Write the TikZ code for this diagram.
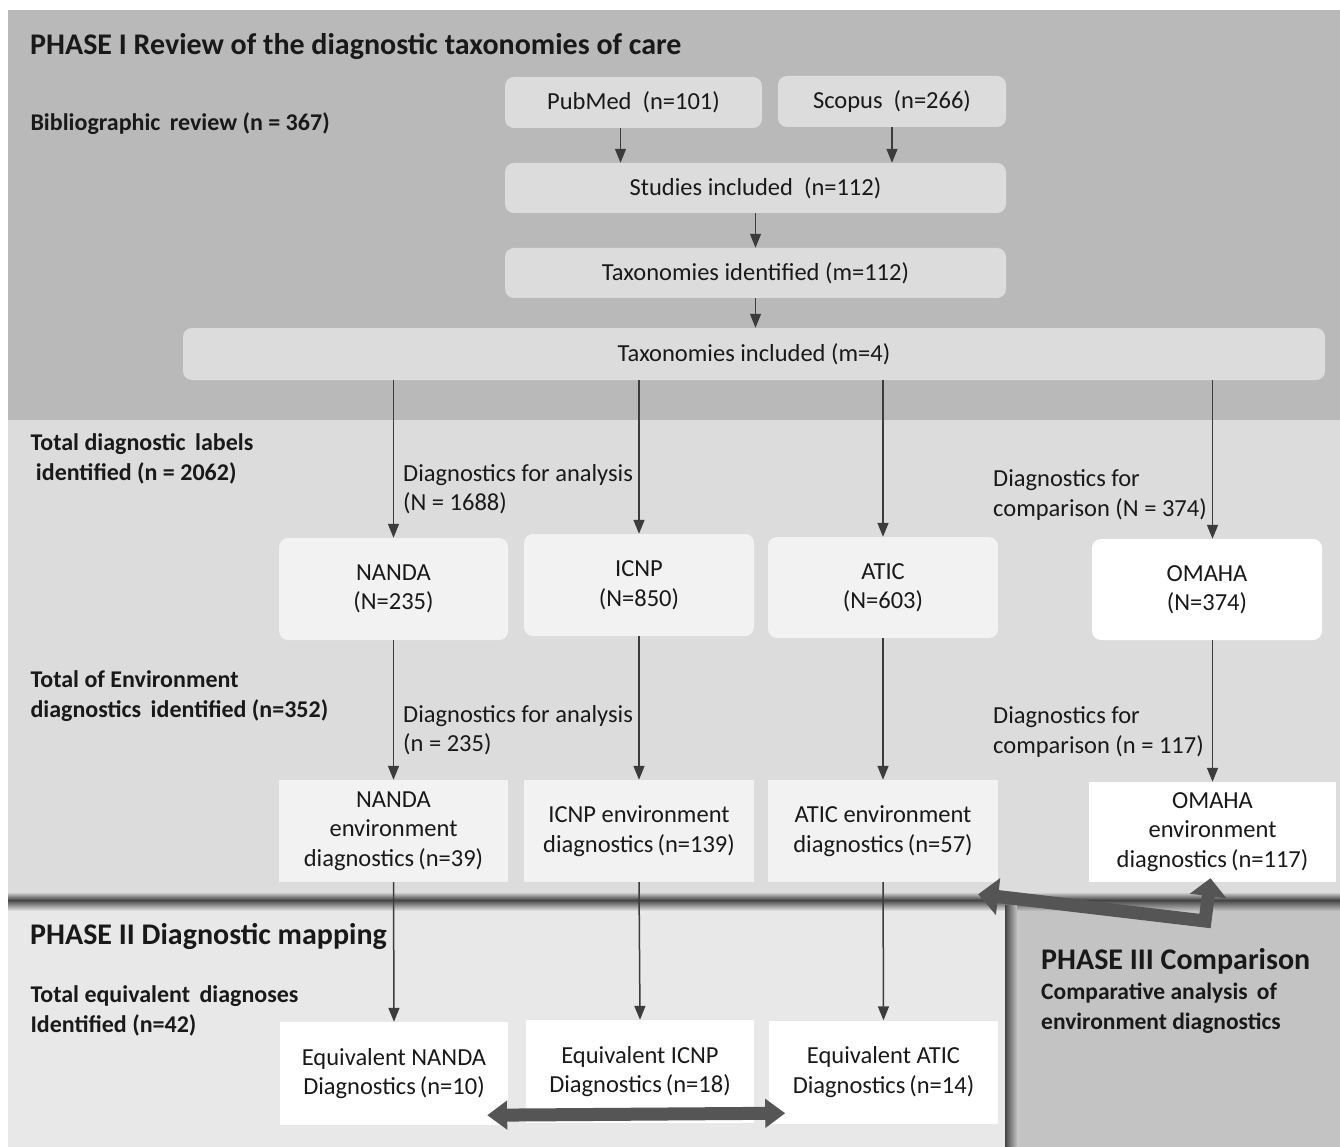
\documentclass[tikz,border=0pt]{standalone}
\usepackage{fontspec}
\setmainfont{Carlito}
\usetikzlibrary{arrows.meta,calc}
\definecolor{phI}{HTML}{B9B9B9}
\definecolor{mid}{HTML}{DCDCDC}
\definecolor{phII}{HTML}{E8E8E8}
\definecolor{phIII}{HTML}{C3C3C3}
\definecolor{boxA}{HTML}{DCDCDC}
\definecolor{boxB}{HTML}{F2F2F2}
\definecolor{arrgray}{HTML}{3C3C3C}
\definecolor{bigarr}{HTML}{555555}
\definecolor{shadowc}{HTML}{444444}
\tikzset{
  every node/.style={font=\fontsize{24.5}{29.5}\selectfont, text=black!90},
  rbox/.style={rounded corners=9pt, inner sep=0pt, align=center},
  sbox/.style={inner sep=0pt, align=center},
  arr/.style={draw=arrgray, line width=1.5pt, -{Triangle[length=14pt,width=11pt]}},
  leftlab/.style={anchor=west, align=left, font=\fontsize{24}{29.5}\selectfont\bfseries},
  edgelab/.style={anchor=west, align=left, inner sep=0pt},
  phasetitle/.style={anchor=west, inner sep=0pt, font=\fontsize{30}{34}\selectfont\bfseries},
  thick arrow/.style={draw=bigarr, line width=13pt, line join=miter},
}
\begin{document}
\begin{tikzpicture}[x=1pt,y=-1pt]
\useasboundingbox (0,0) rectangle (1340,1147);
\fill[white] (0,0) rectangle (1340,1147);
% panels
\fill[phI] (8,10) rectangle (1340,420);
\fill[mid] (8,420) rectangle (1340,900);
\fill[phII] (8,900) rectangle (1005,1147);
\fill[phIII] (1005,900) rectangle (1340,1147);
% shadows
\shade[top color=mid, bottom color=shadowc] (8,892) rectangle (1340,900);
\shade[top color=shadowc, bottom color=phII] (8,900) rectangle (1005,911);
\shade[top color=shadowc, bottom color=phIII] (1005,900) rectangle (1340,911);
\shade[left color=shadowc, right color=phIII] (1005,905) rectangle (1017,1147);

% titles
\node[phasetitle] (t1) at (30,46) {PHASE I Review of the diagnostic taxonomies of care};
\node[phasetitle] (t2) at (30,936) {PHASE II Diagnostic mapping};
\node[phasetitle] (t3) at (1041,961) {PHASE III Comparison};
\node[anchor=north west, align=left, inner sep=0pt, font=\fontsize{23.5}{29.5}\selectfont\bfseries] (t3b) at (1041,983) {Comparative analysis\, of\\environment diagnostics};

% left labels
\node[leftlab] (l1) at (27,124) {Bibliographic\, review (n = 367)};
\node[leftlab] (l2) at (27,459) {Total diagnostic\, labels\\\ identified (n = 2062)};
\node[leftlab] (l3) at (27,696) {Total of Environment\\diagnostics\, identified (n=352)};
\node[leftlab] (l4) at (27,1011) {Total equivalent\, diagnoses\\Identified (n=42)};

% phase I boxes
\node[rbox, fill=boxA, minimum width=257pt, minimum height=51pt] (pub) at (633.5,102.5) {PubMed\ \ (n=101)};
\node[rbox, fill=boxA, minimum width=228pt, minimum height=51pt] (sco) at (892,101.5) {Scopus\ \ (n=266)};
\node[rbox, fill=boxA, minimum width=501pt, minimum height=50pt] (stud) at (755.5,188) {Studies included\ \ (n=112)};
\node[rbox, fill=boxA, minimum width=501pt, minimum height=50pt] (taxid) at (755.5,273) {Taxonomies identified (m=112)};
\node[rbox, fill=boxA, minimum width=1142pt, minimum height=52pt] (taxin) at (754,354) {Taxonomies included (m=4)};

% taxonomy boxes
\node[rbox, fill=boxB, minimum width=229pt, minimum height=102pt] (nanda) at (393.5,589) {NANDA\\(N=235)};
\node[rbox, fill=boxB, minimum width=230pt, minimum height=102pt] (icnp) at (639,585) {ICNP\\(N=850)};
\node[rbox, fill=boxB, minimum width=230pt, minimum height=101pt] (atic) at (883,587.5) {ATIC\\(N=603)};
\node[rbox, fill=white, minimum width=230pt, minimum height=101pt] (omaha) at (1207,589.5) {OMAHA\\(N=374)};

% environment boxes
\node[sbox, fill=boxB, minimum width=229pt, minimum height=102pt] (nandae) at (393.5,831) {NANDA\\environment\\diagnostics\,(n=39)};
\node[sbox, fill=boxB, minimum width=230pt, minimum height=102pt] (icnpe) at (639,831) {ICNP environment\\diagnostics\,(n=139)};
\node[sbox, fill=boxB, minimum width=230pt, minimum height=102pt] (atice) at (883,831) {ATIC environment\\diagnostics\,(n=57)};
\node[sbox, fill=white, minimum width=247pt, minimum height=100pt] (omahae) at (1212.5,832) {OMAHA\\environment\\diagnostics\,(n=117)};

% equivalent boxes
\node[sbox, fill=white, minimum width=228pt, minimum height=103pt] (nandaq) at (394,1073.5) {Equivalent NANDA\\Diagnostics\,(n=10)};
\node[sbox, fill=white, minimum width=228pt, minimum height=103pt] (icnpq) at (640,1071.5) {Equivalent ICNP\\Diagnostics\,(n=18)};
\node[sbox, fill=white, minimum width=229pt, minimum height=103pt] (aticq) at (883.5,1072) {Equivalent ATIC\\Diagnostics\,(n=14)};

% edge labels
\node[edgelab] (e1) at (403,489) {Diagnostics for analysis\\(N = 1688)};
\node[edgelab] (e2) at (993,495) {Diagnostics for\\comparison (N = 374)};
\node[edgelab] (e3) at (403,730) {Diagnostics for analysis\\(n = 235)};
\node[edgelab] (e4) at (993,732) {Diagnostics for\\comparison (n = 117)};

% arrows phase I
\draw[arr] ([xshift=-13pt]pub.south) -- ([xshift=-13pt]pub.south |- stud.north);
\draw[arr] (sco.south) -- (sco.south |- stud.north);
\draw[arr] (stud.south) -- (taxid.north);
\draw[arr] (taxid.south) -- (taxin.north -| taxid.south);
% to taxonomies
\draw[arr] (nanda.north |- taxin.south) -- (nanda.north);
\draw[arr] (icnp.north |- taxin.south) -- (icnp.north);
\draw[arr] (atic.north |- taxin.south) -- (atic.north);
\draw[arr] (omahae.north |- taxin.south) -- (omahae.north |- omaha.north);
% to environment
\draw[arr] (nanda.south) -- (nandae.north);
\draw[arr] (icnp.south) -- (icnpe.north);
\draw[arr] (atic.south) -- (atice.north);
\draw[arr] (omahae.north |- omaha.south) -- (omahae.north);
% to equivalent
\draw[arr] (nandae.south) -- (nandaq.north);
\draw[arr] (icnpe.south) -- (icnpq.north);
\draw[arr] (atice.south) -- (aticq.north);

% thick arrows
\coordinate (dl) at ([xshift=-21pt,yshift=10pt]nandaq.south east);
\coordinate (dr) at ([xshift=31pt,yshift=10pt]icnpq.south east);
\draw[thick arrow, {Triangle[length=20pt,width=28pt]}-{Triangle[length=20pt,width=28pt]}] (dl) -- (dr);

\coordinate (ca) at ([xshift=-20pt,yshift=-12pt]atice.south east);
\coordinate (cb) at (1205,921);
\coordinate (cc) at ([xshift=-2pt,yshift=4pt]omahae.south);
\draw[thick arrow, {Triangle[length=20pt,width=36pt]}-{Triangle[length=18pt,width=36pt]}] (ca) -- (cb) -- (cc);
\end{tikzpicture}
\end{document}
